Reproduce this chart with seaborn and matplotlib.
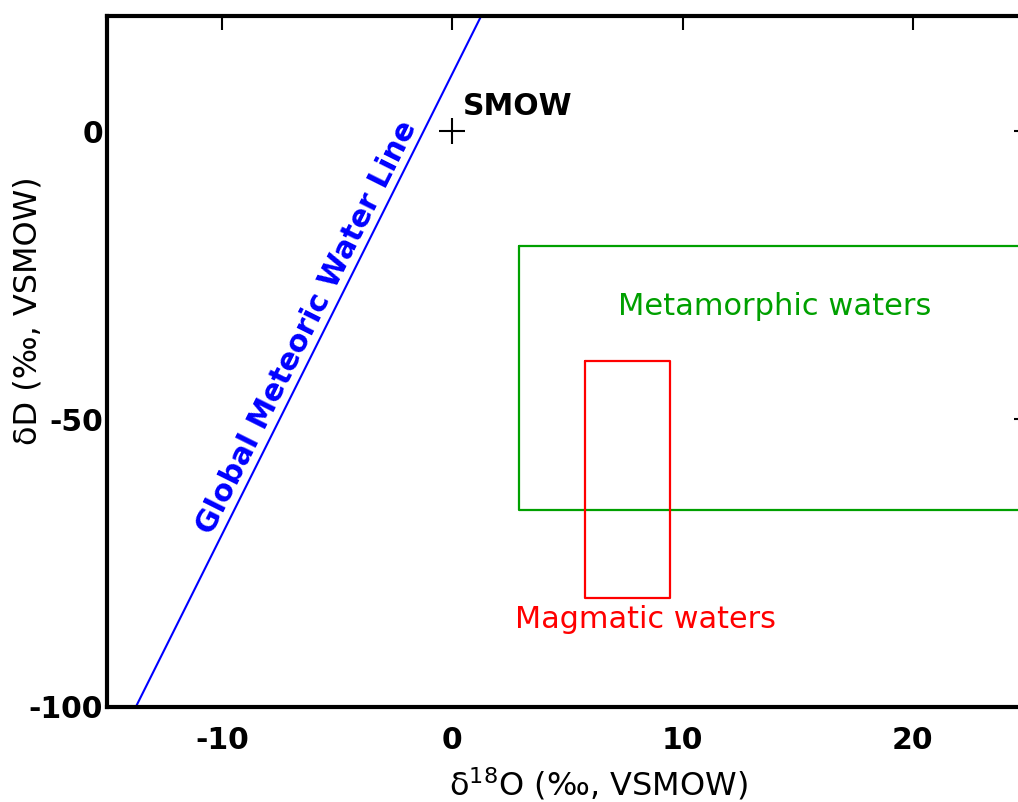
import matplotlib
matplotlib.use("Agg")
import matplotlib.pyplot as plt
import seaborn as sns
import pandas as pd

# ---- data ----
gmwl_d18o = [-13.75, 1.25]
gmwl_dD = [-100.0, 20.0]

smow_d18o = [0.0]
smow_dD = [0.0]

meta_d18o = [2.9, 25.0]     # x range of metamorphic box
meta_dD = [-20.0, -65.8]    # y range

magma_d18o = [5.75, 9.45]
magma_dD = [-40.0, -81.0]

xticks = [-10, 0, 10, 20]
yticks = [0, -50, -100]

sns.set_theme(style="white")
plt.rcParams['font.family'] = ['DejaVu Sans']
plt.rcParams['text.color'] = 'black'
plt.rcParams['axes.labelcolor'] = 'black'
plt.rcParams['xtick.color'] = 'black'
plt.rcParams['ytick.color'] = 'black'

fig = plt.figure(figsize=(10.18, 8.02), dpi=100)
L, R, T, B = 107/1018, 1028/1018, 1 - 16/802, 1 - 707/802
ax = fig.add_axes([L, B, R - L, T - B])

df_line = pd.DataFrame({"x": gmwl_d18o, "y": gmwl_dD})
sns.lineplot(data=df_line, x="x", y="y", ax=ax, color="#0000ff", linewidth=1.5)


def box(xs, ys):
    return ([xs[0], xs[1], xs[1], xs[0], xs[0]], [ys[0], ys[0], ys[1], ys[1], ys[0]])


bx, by = box(meta_d18o, meta_dD)
sns.lineplot(x=bx, y=by, sort=False, estimator=None, ax=ax, color="#00a000", linewidth=1.6)
mx, my = box(magma_d18o, magma_dD)
sns.lineplot(x=mx, y=my, sort=False, estimator=None, ax=ax, color="#ff0000", linewidth=1.6)

sns.scatterplot(x=smow_d18o, y=smow_dD, ax=ax, marker="+", s=350, color="black", linewidth=1.5)

ax.text(0.45, 4.3, "SMOW", fontsize=21.5, fontweight="bold", color="black", ha="left", va="center")
ax.text(-6.3, -34.1, "Global Meteoric Water Line", fontsize=21.5, fontweight="bold",
        color="#0000ff", rotation=63.4, ha="center", va="center", rotation_mode="anchor")
ax.text(14.0, -30.5, "Metamorphic waters", fontsize=22, color="#00a000", ha="center", va="center")
ax.text(8.4, -84.8, "Magmatic waters", fontsize=21.8, color="#ff0000", ha="center", va="center")

ax.set_xlim(-15, 25)
ax.set_ylim(-100, 20)
ax.set_xticks(xticks)
ax.set_yticks(yticks)
ax.set_xticklabels([str(v) for v in xticks], fontweight="bold", fontsize=21.5)
ax.set_yticklabels([str(v) for v in yticks], fontweight="bold", fontsize=21.5)
ax.tick_params(direction="in", length=10, width=1.5, top=True, right=True,
               color="black", labelcolor="black")
ax.tick_params(axis="x", pad=14)
ax.tick_params(axis="y", pad=3)

for s in ax.spines.values():
    s.set_linewidth(3)
    s.set_color("black")

ax.set_xlabel("δ$^{18}$O (‰, VSMOW)", fontsize=23, color="black")
ax.set_ylabel("δD (‰, VSMOW)", fontsize=23, color="black")
ax.xaxis.set_label_coords(0.534, -0.085)
ax.yaxis.set_label_coords(-0.069, 0.573)

fig.savefig("out.png", dpi=100)
